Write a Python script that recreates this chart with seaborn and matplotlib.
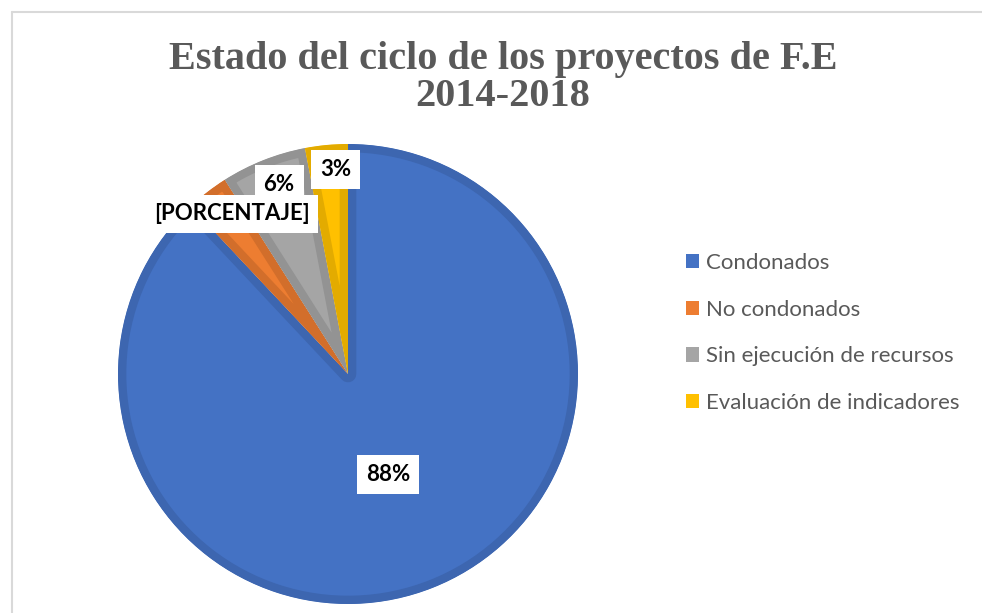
import numpy as np
import matplotlib
matplotlib.use("Agg")
import matplotlib.pyplot as plt
from matplotlib.lines import Line2D
from matplotlib.patches import Patch
import seaborn as sns

# data
categories = ["Condonados", "No condonados", "Sin ejecución de recursos",
              "Evaluación de indicadores"]
shares = [88, 3, 6, 3]
label_texts = ["88%", "[PORCENTAJE]", "6%", "3%"]

# styling
fills = ["#4472C4", "#ED7D31", "#A5A5A5", "#FFC000"]
edges = ["#3D66B0", "#D26E2B", "#939393", "#E3AB00"]
label_dist = [0.47, 0.86, 0.875, 0.89]
label_nudge = [0, -1.8, -1.6, -2]   # degrees, like Excel best-fit
label_z = [4, 6, 5, 5]              # [PORCENTAJE] box sits over the 6% box

sns.set_theme(style="white")
plt.rcParams["font.family"] = ["Lato", "DejaVu Sans"]

W, H = 982, 613
fig = plt.figure(figsize=(W / 100, H / 100), dpi=100)
fig.patch.set_facecolor("white")

cx, cy, r = 348, 374, 230
ax = fig.add_axes([(cx - r) / W, (H - cy - r) / H, 2 * r / W, 2 * r / H])
ax.axis("off")

wedges, _ = ax.pie(shares, colors=fills, startangle=90, counterclock=False,
                   radius=1, center=(0, 0), frame=False)
ax.set_xlim(-1, 1)
ax.set_ylim(-1, 1)
for w, ec in zip(wedges, edges):
    w.set_edgecolor(ec)
    w.set_linewidth(12)
    w.set_joinstyle("round")
    w.set_clip_path(w)
    w.set_clip_on(True)

for w, txt, d, nud, z in zip(wedges, label_texts, label_dist, label_nudge, label_z):
    mid = np.deg2rad((w.theta1 + w.theta2) / 2 + nud)
    ax.text(d * np.cos(mid), d * np.sin(mid), txt, ha="center", va="center",
            fontsize=16, fontweight="bold", color="black", zorder=z,
            bbox=dict(boxstyle="square,pad=0.4", fc="white", ec="none"))

# title
fig.text(503 / W, 1 - 78 / H, "Estado del ciclo de los proyectos de F.E\n2014-2018",
         ha="center", va="center", fontsize=29, fontweight="bold",
         family="Liberation Serif", color="#595959", linespacing=1.02)

# legend
handles = [Patch(facecolor=c, edgecolor="none") for c in fills]
leg = fig.legend(handles, categories, loc="center left",
                 bbox_to_anchor=(686 / W, 1 - 333 / H), frameon=False,
                 fontsize=16, handlelength=0.6, handleheight=0.6,
                 handletextpad=0.3, labelspacing=1.2, borderaxespad=0,
                 borderpad=0)
for t in leg.get_texts():
    t.set_color("#595959")

# chart area border (top and left visible)
fig.add_artist(Line2D([12 / W, 1], [1 - 12 / H, 1 - 12 / H],
                      transform=fig.transFigure, color="#D9D9D9", lw=1.5))
fig.add_artist(Line2D([12 / W, 12 / W], [0, 1 - 12 / H],
                      transform=fig.transFigure, color="#D9D9D9", lw=1.5))

fig.savefig("out.png", dpi=100)
